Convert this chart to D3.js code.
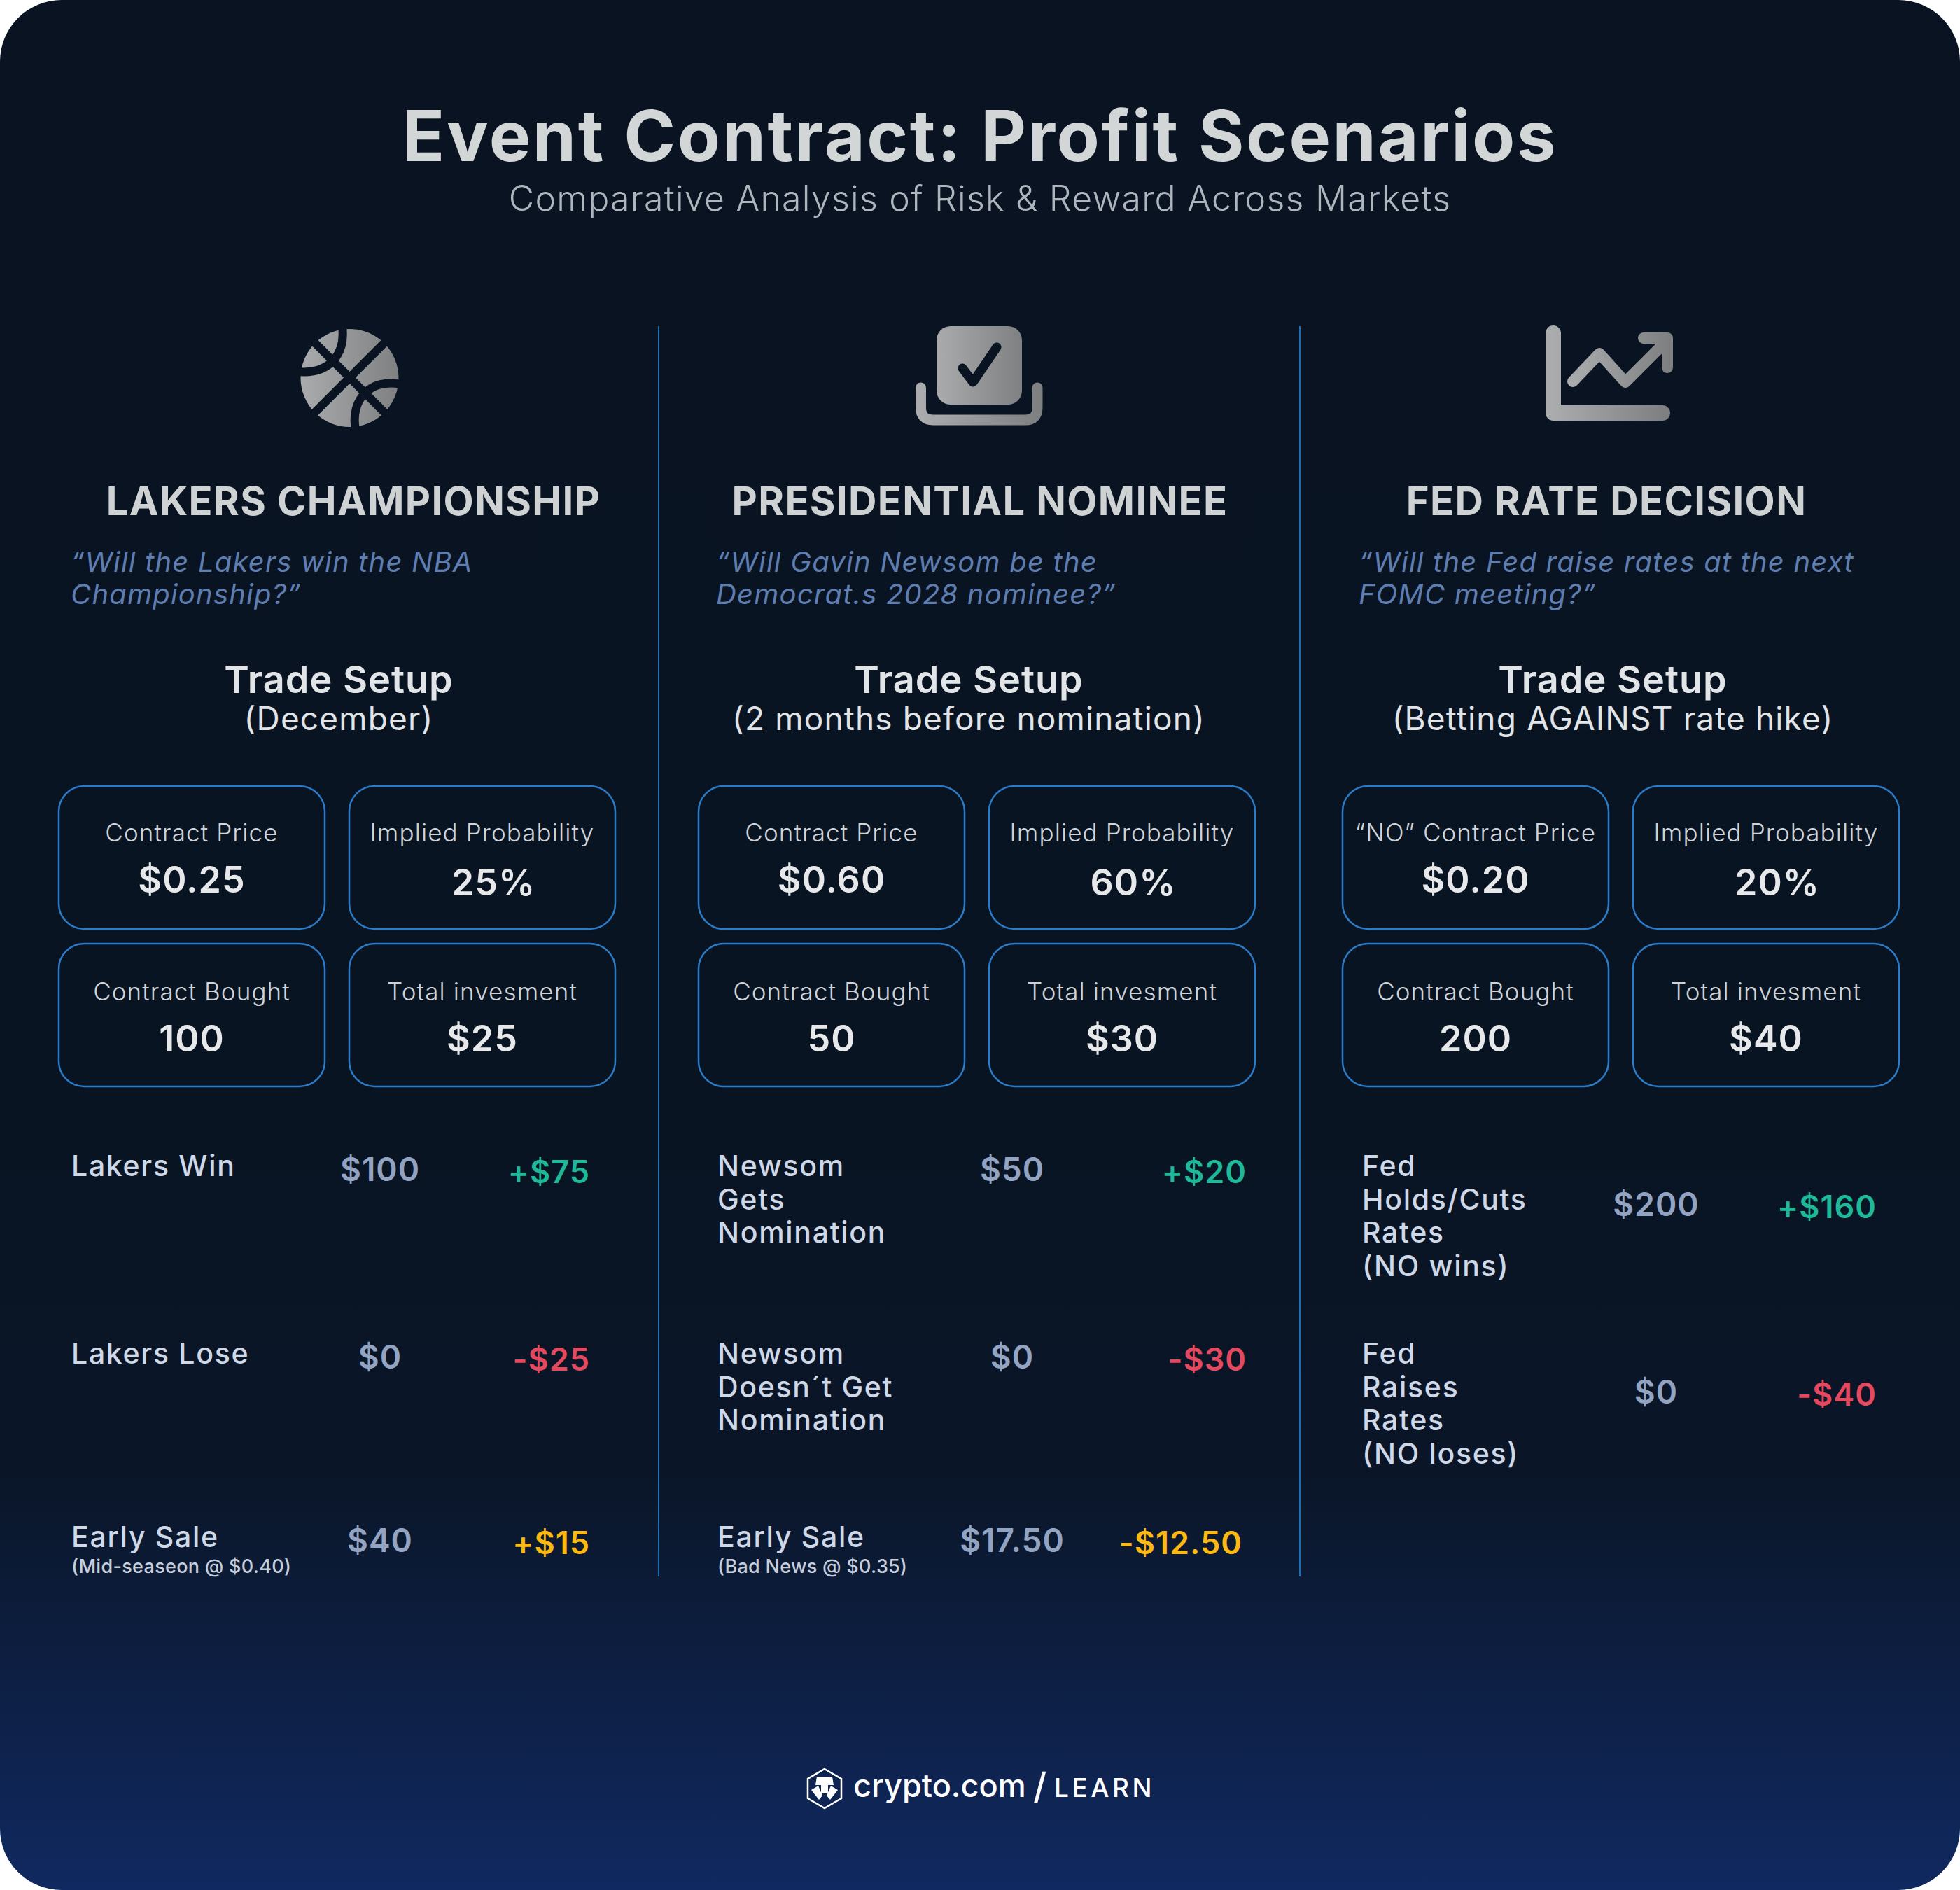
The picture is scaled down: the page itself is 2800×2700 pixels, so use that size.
<!DOCTYPE html>
<html>
<head>
<meta charset="utf-8">
<script src="https://cdn.jsdelivr.net/npm/d3@7"></script>
<style>
  body { margin: 0; background: #fff; }
  text { font-family: Inter, "Noto Sans", sans-serif; }
</style>
</head>
<body>
<div id="chart"></div>
<script>
// the values
const markets = ["LAKERS CHAMPIONSHIP", "PRESIDENTIAL NOMINEE", "FED RATE DECISION"];
const questions = [
  ["“Will the Lakers win the NBA", "Championship?”"],
  ["“Will Gavin Newsom be the", "Democrat.s 2028 nominee?”"],
  ["“Will the Fed raise rates at the next", "FOMC meeting?”"]
];
const setupNotes = ["(December)", "(2 months before nomination)", "(Betting AGAINST rate hike)"];
const priceLabels = ["Contract Price", "Contract Price", "“NO” Contract Price"];
const prices = ["$0.25", "$0.60", "$0.20"];
const probabilities = ["25%", "60%", "20%"];
const contracts = ["100", "50", "200"];
const investments = ["$25", "$30", "$40"];

const outcomeLabels = [
  [["Lakers Win"], ["Lakers Lose"], ["Early Sale"]],
  [["Newsom", "Gets", "Nomination"], ["Newsom", "Doesn´t Get", "Nomination"], ["Early Sale"]],
  [["Fed", "Holds/Cuts", "Rates", "(NO wins)"], ["Fed", "Raises", "Rates", "(NO loses)"]]
];
const outcomeNotes = [
  [null, null, "(Mid-seaseon @ $0.40)"],
  [null, null, "(Bad News @ $0.35)"],
  [null, null]
];
const payoffs = [["$100", "$0", "$40"], ["$50", "$0", "$17.50"], ["$200", "$0"]];
const profits = [["+$75", "-$25", "+$15"], ["+$20", "-$30", "-$12.50"], ["+$160", "-$40"]];
const profitKinds = ["win", "lose", "early"];

// layout
const W = 2800, H = 2700;
const columns = [0, 1, 2];

const svg = d3.select("#chart").append("svg")
    .attr("width", W)
    .attr("height", H)
    .attr("viewBox", `0 0 ${W} ${H}`)
    .style("display", "block");

const defs = svg.append("defs");

const bg = defs.append("linearGradient")
    .attr("id", "bg").attr("x1", 0).attr("y1", 0).attr("x2", 0).attr("y2", 1);
bg.append("stop").attr("offset", "0").attr("stop-color", "#091321");
bg.append("stop").attr("offset", "0.6").attr("stop-color", "#091423");
bg.append("stop").attr("offset", "0.78").attr("stop-color", "#0a1628");
bg.append("stop").attr("offset", "0.89").attr("stop-color", "#0d1f44");
bg.append("stop").attr("offset", "1").attr("stop-color", "#102960");

const metal = defs.append("linearGradient")
    .attr("id", "metal").attr("x1", 0).attr("y1", 0).attr("x2", 1).attr("y2", 0);
metal.append("stop").attr("offset", "0").attr("stop-color", "#a9abac");
metal.append("stop").attr("offset", "1").attr("stop-color", "#7f8082");

svg.append("rect")
    .attr("width", W).attr("height", H)
    .attr("rx", 88).attr("ry", 88)
    .attr("fill", "url(#bg)");

// title block
svg.append("text")
    .attr("x", 1400).attr("y", 230)
    .attr("text-anchor", "middle")
    .attr("font-size", 100).attr("font-weight", 700)
    .attr("letter-spacing", 2.6)
    .attr("fill", "#d3d6d6")
    .text("Event Contract: Profit Scenarios");

svg.append("text")
    .attr("x", 1400).attr("y", 301)
    .attr("text-anchor", "middle")
    .attr("font-size", 50).attr("font-weight", 300)
    .attr("letter-spacing", 1.26)
    .attr("fill", "#aeb5bd")
    .text("Comparative Analysis of Risk & Reward Across Markets");

// column positions
const headingX = d3.scaleOrdinal().domain(columns).range([505, 1400, 2295]);
const questionX = d3.scaleOrdinal().domain(columns).range([101, 1023, 1941]);
const setupX = d3.scaleOrdinal().domain(columns).range([484, 1384, 2304]);
const cardX = d3.scaleOrdinal().domain(columns).range([84, 998, 1918]);
const labelX = d3.scaleOrdinal().domain(columns).range([102, 1025, 1946]);
const payoffX = d3.scaleOrdinal().domain(columns).range([543, 1446, 2366]);
const profitRight = d3.scaleOrdinal().domain(columns).range([843, 1781, 2681]);
const rowY = d3.scaleOrdinal().domain([0, 1, 2]).range([1680, 1948, 2210]);
const profitColor = d3.scaleOrdinal().domain(profitKinds).range(["#1fb899", "#e4495f", "#fdb913"]);

// dividers
svg.selectAll("line.divider")
  .data([941, 1857])
  .join("line")
    .attr("class", "divider")
    .attr("x1", d => d).attr("x2", d => d)
    .attr("y1", 466).attr("y2", 2252)
    .attr("stroke", "#1f6fb4")
    .attr("stroke-width", 2);

columns.forEach(function(c) {
  const g = svg.append("g");

  g.append("text")
      .attr("x", headingX(c)).attr("y", 736)
      .attr("text-anchor", "middle")
      .attr("font-size", 56).attr("font-weight", 700)
      .attr("letter-spacing", 1.4)
      .attr("fill", "#cfd2d3")
      .text(markets[c]);

  g.selectAll("text.question")
    .data(questions[c])
    .join("text")
      .attr("class", "question")
      .attr("x", questionX(c))
      .attr("y", (d, i) => 817 + i * 46)
      .attr("font-size", 40).attr("font-style", "italic")
      .attr("letter-spacing", 1.2)
      .attr("fill", "#5e7db0")
      .text(d => d);

  g.append("text")
      .attr("x", setupX(c)).attr("y", 990)
      .attr("text-anchor", "middle")
      .attr("font-size", 54).attr("font-weight", 600)
      .attr("letter-spacing", 1)
      .attr("fill", "#e2e5e8")
      .text("Trade Setup");

  g.append("text")
      .attr("x", setupX(c)).attr("y", 1043)
      .attr("text-anchor", "middle")
      .attr("font-size", 46)
      .attr("letter-spacing", 1.15)
      .attr("fill", "#e2e5e8")
      .text(setupNotes[c]);

  // the four cards
  const cards = [
    {label: priceLabels[c], value: prices[c], col: 0, row: 0},
    {label: "Implied Probability", value: probabilities[c], col: 1, row: 0, dx: 16, dy: 4},
    {label: "Contract Bought", value: contracts[c], col: 0, row: 1},
    {label: "Total invesment", value: investments[c], col: 1, row: 1}
  ];

  const card = g.selectAll("g.card")
    .data(cards)
    .join("g")
      .attr("class", "card")
      .attr("transform", d => `translate(${cardX(c) + d.col * 415},${1123 + d.row * 225})`);

  card.append("rect")
      .attr("width", 380).attr("height", 204)
      .attr("rx", 36)
      .attr("fill", "none")
      .attr("stroke", "#2a7cc8")
      .attr("stroke-width", 2.5);

  card.append("text")
      .attr("x", 190).attr("y", d => 79 + d.row * 2)
      .attr("text-anchor", "middle")
      .attr("font-size", 35).attr("font-weight", 300)
      .attr("letter-spacing", 1.1)
      .attr("fill", "#d0d4d9")
      .text(d => d.label);

  card.append("text")
      .attr("x", d => 190 + (d.dx || 0)).attr("y", d => 152 + d.row * 2 + (d.dy || 0))
      .attr("text-anchor", "middle")
      .attr("font-size", 52).attr("font-weight", 600)
      .attr("letter-spacing", 1)
      .attr("fill", "#e6e8ea")
      .text(d => d.value);

  // outcome rows
  outcomeLabels[c].forEach(function(lines, r) {
    const y = rowY(r);
    lines.forEach(function(line, i) {
      g.append("text")
          .attr("x", labelX(c)).attr("y", y + i * 47.7)
          .attr("font-size", 41).attr("font-weight", 500)
          .attr("letter-spacing", 1.7)
          .attr("fill", "#cfd8e7")
          .text(line);
    });
    if (outcomeNotes[c][r]) {
      g.append("text")
          .attr("x", labelX(c)).attr("y", y + 37)
          .attr("font-size", 27).attr("font-weight", 500)
          .attr("letter-spacing", 0.3)
          .attr("fill", "#c6cedc")
          .text(outcomeNotes[c][r]);
    }
    // the third column has taller rows, its numbers sit mid way
    const shift = c === 2 ? 57 : 7;
    g.append("text")
        .attr("x", payoffX(c)).attr("y", y + shift)
        .attr("text-anchor", "middle")
        .attr("font-size", 46).attr("font-weight", 600)
        .attr("letter-spacing", 1)
        .attr("fill", "#93a3c2")
        .text(payoffs[c][r]);
    // -$12.50 stops a little short of the other two in its column
    const nudge = profits[c][r] === "-$12.50" ? 6 : 0;
    g.append("text")
        .attr("x", profitRight(c) - nudge).attr("y", y + shift + 3)
        .attr("text-anchor", "end")
        .attr("font-size", 45).attr("font-weight", 600)
        .attr("letter-spacing", 1)
        .attr("fill", profitColor(profitKinds[r]))
        .text(profits[c][r]);
  });
});

// icons
const ball = svg.append("g");
ball.append("circle")
    .attr("cx", 499.5).attr("cy", 540).attr("r", 70)
    .attr("fill", "url(#metal)");
ball.selectAll("path")
  .data([
    "M447,487L552,592",
    "M552,487L447,592",
    "M489,466C494,505 472,535 426,531",
    "M573,549C530,540 500,570 508,614"
  ])
  .join("path")
    .attr("d", d => d)
    .attr("fill", "none")
    .attr("stroke", "#091321")
    .attr("stroke-width", 12);

const ballot = svg.append("g");
ballot.append("rect")
    .attr("x", 1338).attr("y", 466).attr("width", 122).attr("height", 112)
    .attr("rx", 20)
    .attr("fill", "url(#metal)");
ballot.append("path")
    .attr("d", "M1375,526L1390,546L1424,496")
    .attr("fill", "none")
    .attr("stroke", "#091321")
    .attr("stroke-width", 13)
    .attr("stroke-linecap", "round")
    .attr("stroke-linejoin", "round");
ballot.append("path")
    .attr("d", "M1315.5,554V582Q1315.5,600 1333,600H1465Q1482,600 1482,582V554")
    .attr("fill", "none")
    .attr("stroke", "url(#metal)")
    .attr("stroke-width", 15)
    .attr("stroke-linecap", "round");

const trend = svg.append("g");
trend.append("path")
    .attr("d", "M2219,476V590H2375")
    .attr("fill", "none")
    .attr("stroke", "url(#metal)")
    .attr("stroke-width", 22)
    .attr("stroke-linecap", "round")
    .attr("stroke-linejoin", "round");
trend.append("path")
    .attr("d", "M2247,545L2285,505L2322,546L2380,488M2348,483H2382V525")
    .attr("fill", "none")
    .attr("stroke", "url(#metal)")
    .attr("stroke-width", 16)
    .attr("stroke-linecap", "round")
    .attr("stroke-linejoin", "round");

// logo
const logo = svg.append("g");
logo.append("path")
    .attr("d", "M1178,2527L1202,2541V2569L1178,2583L1154,2569V2541Z")
    .attr("fill", "none")
    .attr("stroke", "#ffffff")
    .attr("stroke-width", 2.5);
logo.append("path")
    .attr("d", "M1167,2538H1189L1191,2550H1183V2562H1173V2550H1165ZM1159,2557L1169,2551L1175,2565L1170,2571ZM1197,2557L1187,2551L1181,2565L1186,2571Z")
    .attr("fill", "#ffffff");
logo.append("text")
    .attr("x", 1219).attr("y", 2567)
    .attr("font-size", 45).attr("font-weight", 500)
    .attr("fill", "#ffffff")
    .text("crypto.com");
logo.append("text")
    .attr("x", 1476).attr("y", 2570)
    .attr("font-size", 52).attr("font-weight", 500)
    .attr("fill", "#ffffff")
    .text("/");
logo.append("text")
    .attr("x", 1506).attr("y", 2567)
    .attr("font-size", 37).attr("font-weight", 500)
    .attr("letter-spacing", 4.5)
    .attr("fill", "#ffffff")
    .text("LEARN");
</script>
</body>
</html>
